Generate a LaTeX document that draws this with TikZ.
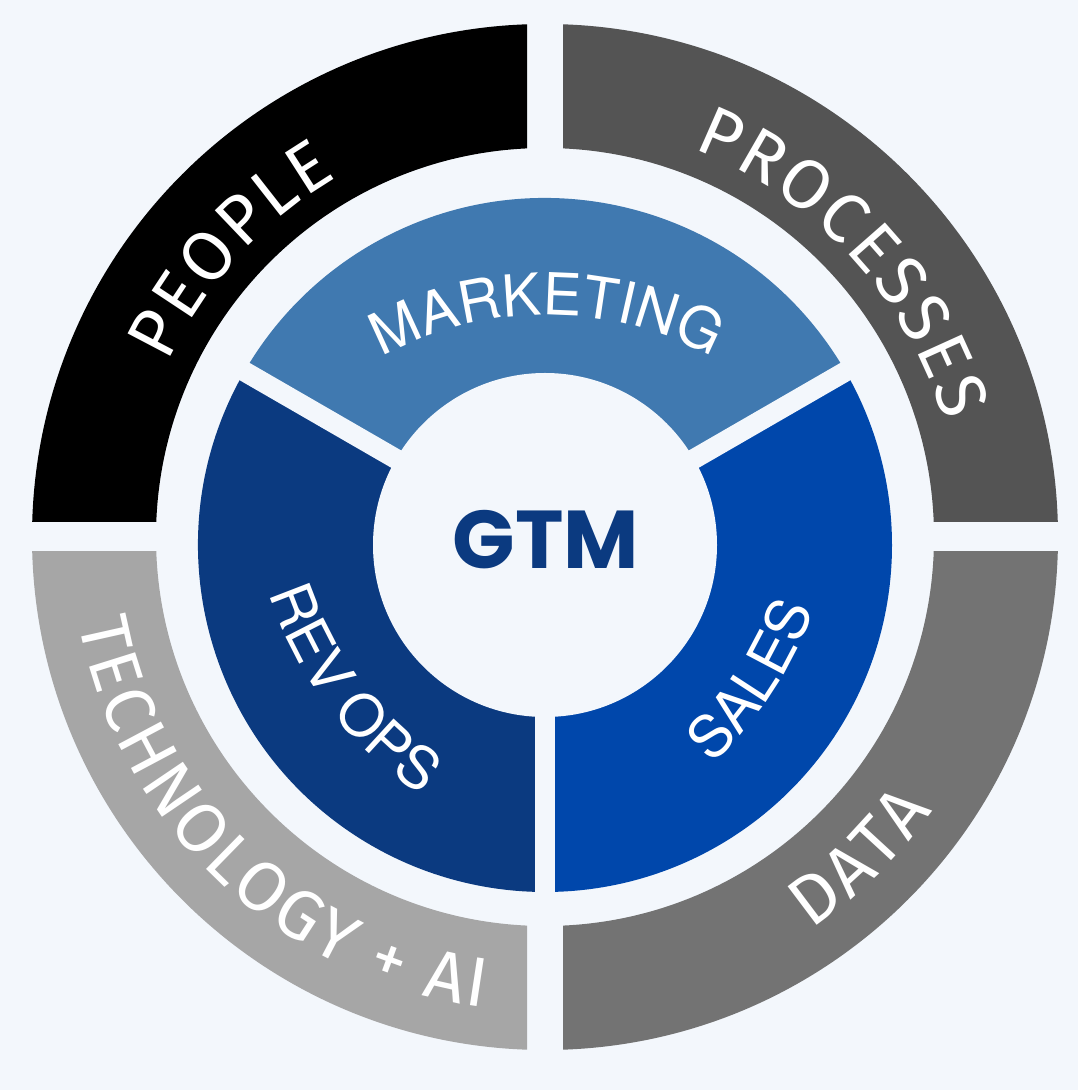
\documentclass[tikz,border=0pt]{standalone}
\usepackage{fontspec}
\usetikzlibrary{decorations.text}
\newfontfamily\ringfont{Fira Sans}
\newfontfamily\midfamily{TeX Gyre Heros}
\newfontfamily\gtmfamily{Poppins}
\definecolor{bgc}{HTML}{F3F7FC}
\definecolor{peoplec}{HTML}{000000}
\definecolor{procc}{HTML}{545454}
\definecolor{datac}{HTML}{737373}
\definecolor{techc}{HTML}{A6A6A6}
\definecolor{mktc}{HTML}{4079B0}
\definecolor{revc}{HTML}{0B3A80}
\definecolor{salesc}{HTML}{0047AB}
\definecolor{gtmc}{HTML}{0B3A80}
\newcommand\outerfont{\ringfont\fontsize{70}{70}\selectfont}
\newcommand\midfont{\midfamily\fontsize{58}{58}\selectfont}
\newcommand\gtmfont{\gtmfamily\bfseries\fontsize{82}{82}\selectfont}
\begin{document}
\begin{tikzpicture}[x=1pt,y=1pt,
  arctext/.style n args={3}{decorate, decoration={text effects along path, text={#2}, text align=center,
     text effects/.cd, text along path, characters={text=white, font=#1, inner ysep=0pt, inner xsep=#3, anchor=base}}},
  gapline/.style={draw=bgc, line width=20pt}]
\fill[bgc] (0,0) rectangle (1078,1090);
\coordinate (O1) at (545,553);
\coordinate (O2) at (545,545);
% outer ring quadrants
\begin{scope}
  \clip (0,568) rectangle (527,1090);
  \fill[peoplec, even odd rule] (O1) circle[radius=513] (O1) circle[radius=389];
\end{scope}
\begin{scope}
  \clip (563,568) rectangle (1078,1090);
  \fill[procc, even odd rule] (O1) circle[radius=513] (O1) circle[radius=389];
\end{scope}
\begin{scope}
  \clip (0,0) rectangle (527,538);
  \fill[techc, even odd rule] (O1) circle[radius=513] (O1) circle[radius=389];
\end{scope}
\begin{scope}
  \clip (563,0) rectangle (1078,538);
  \fill[datac, even odd rule] (O1) circle[radius=513] (O1) circle[radius=389];
\end{scope}
% middle ring
\fill[mktc] (O2) -- ++(30:347) arc[start angle=30, end angle=150, radius=347] -- cycle;
\fill[revc] (O2) -- ++(150:347) arc[start angle=150, end angle=270, radius=347] -- cycle;
\fill[salesc] (O2) -- ++(270:347) arc[start angle=270, end angle=390, radius=347] -- cycle;
\path[gapline] (O2) -- ++(30:360);
\path[gapline] (O2) -- ++(150:360);
\path[gapline] (O2) -- ++(270:360);
\fill[bgc] (O2) circle[radius=172];
% outer labels
\path[arctext={\outerfont}{PEOPLE}{1.5pt}] (O1) ++(182.6:415) arc[start angle=182.6, end angle=92.6, radius=415];
\path[arctext={\outerfont}{PROCESSES}{1.5pt}] (O1) ++(87.6:415) arc[start angle=87.6, end angle=-2.4, radius=415];
\path[arctext={\outerfont}{TECHNOLOGY + AI}{1.5pt}] (O1) ++(166.5:474) arc[start angle=166.5, end angle=286.5, radius=474];
\path[arctext={\outerfont}{DATA}{1.5pt}] (O1) ++(-90.5:474) arc[start angle=-90.5, end angle=-0.5, radius=474];
% middle labels
\coordinate (CM) at (547,429);
\coordinate (CS) at (446,609);
\coordinate (CR) at (639,617);
\path[arctext={\midfont}{MARKETING}{0pt}] (CM) ++(130:346) arc[start angle=130, end angle=50, radius=346];
\path[arctext={\midfont}{SALES}{0pt}] (CS) ++(-68:389) arc[start angle=-68, end angle=2, radius=389];
\path[arctext={\midfont}{REV OPS}{0pt}] (CR) ++(177:389) arc[start angle=177, end angle=257, radius=389];
% centre
\node[text=gtmc, font=\gtmfont, inner sep=0pt] (gtm) at (546,550) {GTM};
\end{tikzpicture}
\end{document}
